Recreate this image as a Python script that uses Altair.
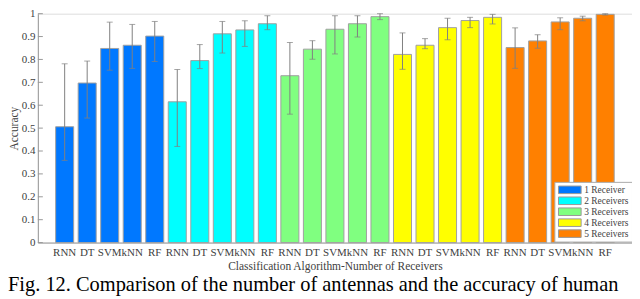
import altair as alt
import pandas as pd

algorithms = ["RNN", "DT", "SVM", "kNN", "RF"]
receivers = ["1 Receiver", "2 Receivers", "3 Receivers", "4 Receivers", "5 Receivers"]
colors = ["#0078ff", "#00ffff", "#80ff80", "#ffff00", "#ff8000"]

acc_1 = [0.506, 0.697, 0.848, 0.862, 0.902]
lo_1 = [0.359, 0.544, 0.753, 0.761, 0.791]
hi_1 = [0.781, 0.793, 0.963, 0.953, 0.966]

acc_2 = [0.615, 0.795, 0.912, 0.929, 0.956]
lo_2 = [0.420, 0.760, 0.828, 0.857, 0.930]
hi_2 = [0.756, 0.865, 0.966, 0.969, 0.991]

acc_3 = [0.729, 0.845, 0.932, 0.956, 0.987]
lo_3 = [0.561, 0.801, 0.824, 0.898, 0.974]
hi_3 = [0.874, 0.882, 0.991, 0.991, 1.000]

acc_4 = [0.822, 0.862, 0.939, 0.970, 0.984]
lo_4 = [0.757, 0.847, 0.886, 0.939, 0.955]
hi_4 = [0.916, 0.891, 0.980, 0.984, 0.997]

acc_5 = [0.852, 0.881, 0.964, 0.980, 0.997]
lo_5 = [0.761, 0.849, 0.930, 0.969, 0.994]
hi_5 = [0.938, 0.908, 0.982, 0.989, 1.000]

y_ticks = [0, 0.1, 0.2, 0.3, 0.4, 0.5, 0.6, 0.7, 0.8, 0.9, 1]
caption = "Fig. 12. Comparison of the number of antennas and the accuracy of human"

rows = []
for g, (a, l, h) in enumerate([(acc_1, lo_1, hi_1), (acc_2, lo_2, hi_2), (acc_3, lo_3, hi_3),
                                (acc_4, lo_4, hi_4), (acc_5, lo_5, hi_5)]):
    for i, alg in enumerate(algorithms):
        rows.append({"id": f"{g+1}-{alg}", "alg": alg, "group": receivers[g],
                     "acc": a[i], "lo": l[i], "hi": h[i]})
df = pd.DataFrame(rows)
order = list(df["id"])

PL, PT = 30, 5
W, H = 597, 230
FONT = "Liberation Serif"

xscale = alt.Scale(paddingInner=0.2, paddingOuter=0.79)
yscale = alt.Scale(domain=[0, 1], nice=False)
xaxis = alt.Axis(title="Classification Algorithm-Number of Receivers",
                 labelExpr="split(datum.label, '-')[1]", labelAngle=0,
                 ticks=False, labelPadding=4, titlePadding=3, labelOverlap=False,
                 labelFont=FONT, titleFont=FONT)
yaxis = alt.Axis(title="Accuracy", values=y_ticks, format="~g", ticks=False,
                 grid=False, labelPadding=3, titlePadding=2,
                 labelOverlap=False, labelFlush=False, labelFont=FONT, titleFont=FONT)
xenc = alt.X("id:N", sort=order, scale=xscale, axis=xaxis)

bars = alt.Chart(df).mark_bar(stroke="#a0a0a0", strokeWidth=1).encode(
    x=xenc,
    y=alt.Y("acc:Q", scale=yscale, axis=yaxis),
    color=alt.Color("group:N", scale=alt.Scale(domain=receivers, range=colors),
                    legend=alt.Legend(title=None, orient="none", legendX=519, legendY=169,
                                      fillColor="white", strokeColor="#aaaaaa", padding=3,
                                      symbolType="M-2.4,-0.8H2.4V0.8H-2.4Z", symbolSize=90,
                                      symbolStrokeColor="#999999", symbolStrokeWidth=1,
                                      labelFont=FONT, labelFontSize=9.5, labelColor="#444444",
                                      clipHeight=10, rowPadding=1,
                                      symbolOffset=7, labelOffset=9)),
)

err = alt.Chart(df).mark_rule(color="#808080", strokeWidth=1).encode(
    x=xenc, y=alt.Y("lo:Q", scale=yscale, axis=yaxis), y2="hi:Q")
cap_lo = alt.Chart(df).mark_tick(color="#808080", size=6, thickness=1).encode(
    x=xenc, y=alt.Y("lo:Q", scale=yscale, axis=yaxis))
cap_hi = alt.Chart(df).mark_tick(color="#808080", size=6, thickness=1).encode(
    x=xenc, y=alt.Y("hi:Q", scale=yscale, axis=yaxis))

tick_df = pd.DataFrame({"v": y_ticks})
yticks = alt.Chart(tick_df).mark_rule(color="#999999", strokeWidth=1).encode(
    y=alt.Y("v:Q", scale=yscale, axis=yaxis), x=alt.value(0), x2=alt.value(5))

cap_df = pd.DataFrame({"t": [caption]})
cap = alt.Chart(cap_df).mark_text(align="left", baseline="alphabetic", font=FONT,
                                  fontSize=20.5, color="#000000").encode(
    text="t:N", x=alt.value(-PL), y=alt.value(H + 49))

chart = alt.layer(bars, err, cap_lo, cap_hi, yticks, cap).properties(
    width=W, height=H,
    autosize=alt.AutoSizeParams(type="none"),
    padding={"left": PL, "top": PT, "right": 0, "bottom": 291 - PT - H},
).configure_view(stroke=None).configure(background="white", font=FONT).configure_axis(
    labelFontSize=11, titleFontSize=11.5,
    titleFontWeight="normal", labelColor="#404040", titleColor="#404040",
    domainColor="#999999", grid=False,
)

chart.save("out.html", embed_options={"renderer": "svg", "actions": False})
